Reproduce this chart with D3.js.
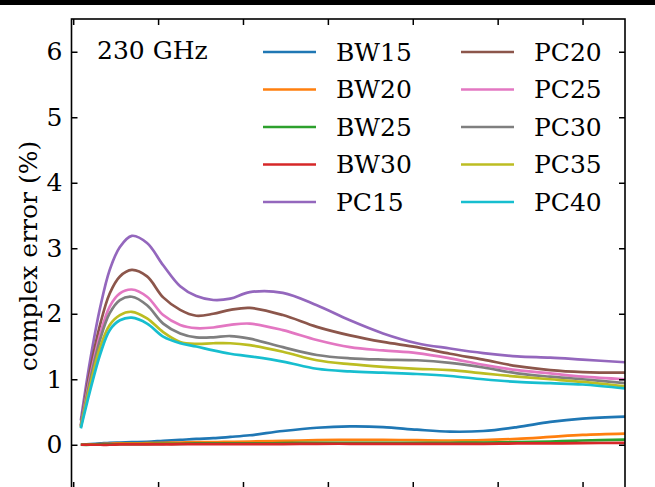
<!DOCTYPE html>
<html>
<head>
<meta charset="utf-8">
<script src="https://cdn.jsdelivr.net/npm/d3@7"></script>
<style>
  body { margin: 0; background: #fff; }
  svg { display: block; }
  text { font-family: "DejaVu Serif", serif; fill: #000; }
</style>
</head>
<body>
<svg width="655" height="487"></svg>
<script>
// x positions (axis units, tick labels are hidden in the figure)
var xs = [0.09, 0.20, 0.32, 0.43, 0.55, 0.69, 0.87, 1.06, 1.26, 1.45, 1.65, 1.85,
          2.08, 2.47, 2.87, 3.26, 3.65, 4.05, 4.44, 4.83, 5.23, 5.62, 6.00, 6.50];

var BW15 = [0.00, 0.01, 0.02, 0.03, 0.035, 0.04, 0.045, 0.06, 0.075, 0.09, 0.10, 0.12,
            0.145, 0.21, 0.26, 0.28, 0.27, 0.23, 0.20, 0.21, 0.27, 0.35, 0.40, 0.43];
var BW20 = [0.00, 0.005, 0.01, 0.015, 0.02, 0.02, 0.025, 0.03, 0.035, 0.04, 0.04, 0.045,
            0.05, 0.06, 0.07, 0.075, 0.075, 0.07, 0.065, 0.07, 0.09, 0.12, 0.15, 0.17];
var BW25 = [0.00, 0.00, 0.005, 0.005, 0.01, 0.01, 0.01, 0.015, 0.015, 0.02, 0.02, 0.02,
            0.02, 0.025, 0.03, 0.03, 0.03, 0.03, 0.03, 0.035, 0.04, 0.05, 0.065, 0.08];
var BW30 = [0.00, 0.00, 0.00, 0.00, 0.005, 0.005, 0.005, 0.005, 0.01, 0.01, 0.01, 0.01,
            0.01, 0.01, 0.015, 0.015, 0.015, 0.015, 0.015, 0.015, 0.02, 0.02, 0.025, 0.03];
var PC15 = [0.37, 1.29, 2.11, 2.67, 3.02, 3.19, 3.08, 2.74, 2.42, 2.27, 2.21, 2.23,
            2.33, 2.32, 2.13, 1.90, 1.70, 1.55, 1.47, 1.40, 1.35, 1.33, 1.30, 1.26];
var PC20 = [0.30, 1.14, 1.85, 2.31, 2.57, 2.67, 2.57, 2.25, 2.06, 1.97, 2.00, 2.06,
            2.09, 1.98, 1.80, 1.67, 1.57, 1.49, 1.39, 1.30, 1.20, 1.14, 1.11, 1.10];
var PC25 = [0.28, 1.04, 1.70, 2.11, 2.31, 2.37, 2.26, 1.98, 1.83, 1.78, 1.79, 1.83,
            1.85, 1.75, 1.60, 1.49, 1.44, 1.40, 1.32, 1.22, 1.14, 1.09, 1.04, 1.00];
var PC30 = [0.28, 0.99, 1.62, 2.01, 2.21, 2.26, 2.13, 1.85, 1.70, 1.64, 1.64, 1.66,
            1.62, 1.49, 1.37, 1.32, 1.30, 1.29, 1.25, 1.18, 1.09, 1.04, 1.00, 0.94];
var PC35 = [0.27, 0.91, 1.50, 1.83, 1.98, 2.03, 1.93, 1.72, 1.57, 1.54, 1.55, 1.55,
            1.52, 1.42, 1.29, 1.23, 1.19, 1.16, 1.14, 1.09, 1.04, 1.00, 0.96, 0.89];
var PC40 = [0.25, 0.83, 1.39, 1.75, 1.90, 1.94, 1.85, 1.65, 1.55, 1.50, 1.44, 1.39,
            1.35, 1.27, 1.16, 1.12, 1.10, 1.08, 1.05, 1.00, 0.96, 0.94, 0.92, 0.86];

var names = ["BW15", "BW20", "BW25", "BW30", "PC15", "PC20", "PC25", "PC30", "PC35", "PC40"];
var values = [BW15, BW20, BW25, BW30, PC15, PC20, PC25, PC30, PC35, PC40];
var colors = ["#1f77b4", "#ff7f0e", "#2ca02c", "#d62728", "#9467bd",
              "#8c564b", "#e377c2", "#7f7f7f", "#bcbd22", "#17becf"];
var xTicks = [0, 1, 2, 3, 4, 5, 6];
var yTicks = [0, 1, 2, 3, 4, 5, 6];

(function () {
  var svg = d3.select("svg");
  var x0 = 71.5, x1 = 625, y0 = 19, y1 = 488;
  var fs = "25px";

  var x = d3.scaleLinear().domain([-0.02, 6.5]).range([x0, x1]);
  var y = d3.scaleLinear().domain([-0.66, 6.5]).range([y1, y0]);

  // black strip from the panel above
  svg.append("rect").attr("x", 0).attr("y", 0).attr("width", 655).attr("height", 5).attr("fill", "#000");

  svg.append("clipPath").attr("id", "clip")
     .append("rect").attr("x", x0).attr("y", y0).attr("width", x1 - x0).attr("height", y1 - y0);

  var line = d3.line()
      .x(function(d) { return x(d[0]); })
      .y(function(d) { return y(d[1]); })
      .curve(d3.curveCatmullRom.alpha(0.5));

  svg.append("g").attr("clip-path", "url(#clip)")
     .selectAll("path")
     .data(values)
     .enter().append("path")
     .attr("d", function(v) { return line(xs.map(function(xx, i) { return [xx, v[i]]; })); })
     .attr("fill", "none")
     .attr("stroke", function(v, i) { return colors[i]; })
     .attr("stroke-width", 2.7)
     .attr("stroke-linejoin", "round");

  // axes, ticks pointing inward on all sides
  var gl = svg.append("g").attr("transform", "translate(" + x0 + ",0)")
      .call(d3.axisLeft(y).tickValues(yTicks).tickSize(-6).tickPadding(9).tickFormat(d3.format("d")));
  gl.select(".domain").remove();
  gl.selectAll("text").style("font-size", fs).attr("font-family", "DejaVu Serif");

  var gr = svg.append("g").attr("transform", "translate(" + x1 + ",0)")
      .call(d3.axisRight(y).tickValues(yTicks).tickSize(-6).tickFormat(""));
  gr.select(".domain").remove();

  var gt = svg.append("g").attr("transform", "translate(0," + y0 + ")")
      .call(d3.axisTop(x).tickValues(xTicks).tickSize(-6).tickFormat(""));
  gt.select(".domain").remove();

  var gb = svg.append("g").attr("transform", "translate(0," + y1 + ")")
      .call(d3.axisBottom(x).tickValues(xTicks).tickSize(-6).tickFormat(""));
  gb.select(".domain").remove();

  svg.selectAll(".tick line").attr("stroke", "#000").attr("stroke-width", 1.5);

  svg.append("rect")
     .attr("x", x0).attr("y", y0).attr("width", x1 - x0).attr("height", y1 - y0)
     .attr("fill", "none").attr("stroke", "#000").attr("stroke-width", 1.6);

  svg.append("text")
     .attr("transform", "translate(28,256) rotate(-90)")
     .attr("text-anchor", "middle").attr("dominant-baseline", "central")
     .style("font-size", fs)
     .text("complex error (%)");

  svg.append("text")
     .attr("x", 97).attr("y", 50).attr("dominant-baseline", "central")
     .style("font-size", fs)
     .text("230 GHz");

  // legend, two columns
  var leg = svg.append("g").selectAll("g")
      .data(names)
      .enter().append("g")
      .attr("transform", function(d, i) {
        var col = Math.floor(i / 5), row = i % 5;
        return "translate(" + (263 + col * 198) + "," + (52 + row * 37.5) + ")";
      });
  leg.append("line")
     .attr("x1", 0).attr("x2", 53).attr("y1", 0).attr("y2", 0)
     .attr("stroke", function(d, i) { return colors[i]; })
     .attr("stroke-width", 2.7);
  leg.append("text")
     .attr("x", 73).attr("y", 0).attr("dominant-baseline", "central")
     .style("font-size", fs)
     .text(function(d) { return d; });
})();
</script>
</body>
</html>
